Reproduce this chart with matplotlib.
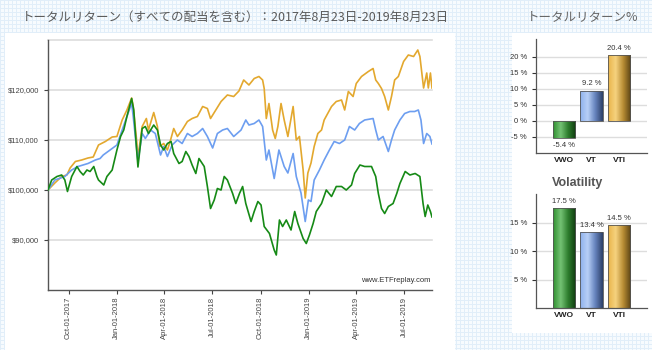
import matplotlib
matplotlib.use('Agg')
import matplotlib.pyplot as plt
import matplotlib.dates as mdates
import numpy as np
import pandas as pd
from matplotlib.colors import LinearSegmentedColormap, to_rgb
from matplotlib.patches import Rectangle

# --- data (days after 2017-08-23, value in $) ---
start = pd.Timestamp('2017-08-23')

vti_days = [0, 13, 26, 36, 42, 52, 64, 76, 86, 96, 109, 122, 131, 141, 150, 159, 162, 169, 171,
            179, 187, 191, 201, 208, 212, 220, 227, 233, 239, 246, 255, 265, 274, 284, 294, 303,
            309, 319, 329, 341, 353, 363, 372, 382, 392, 401, 408, 411, 415, 420, 427, 432, 437,
            443, 449, 456, 466, 472, 478, 485, 489, 494, 500, 506, 513, 520, 525, 539, 548, 558,
            564, 571, 580, 586, 596, 609, 618, 623, 628, 634, 640, 647, 653, 659, 666, 676, 685,
            695, 703, 707, 714, 720, 723, 727, 730]
vti_vals = [100000, 101400, 102700, 103000, 104400, 105700, 106000, 106400, 106600, 109000,
            109700, 110600, 110700, 114000, 116000, 118400, 116700, 109400, 106500, 112700,
            114300, 112000, 115500, 112700, 108700, 109300, 108000, 110000, 112300, 110700,
            112000, 113700, 114300, 114700, 116700, 116300, 114300, 116000, 117700, 119000,
            118700, 119800, 122000, 121000, 122300, 122700, 122000, 120300, 114300, 117300,
            112000, 110300, 112700, 117300, 114000, 110700, 116700, 110000, 110700, 104000,
            98400, 103400, 105400, 108700, 111300, 112000, 114000, 116700, 117700, 118000,
            116000, 119700, 118700, 121300, 122700, 123700, 124300, 122000, 121300, 120300,
            118700, 116000, 118700, 122000, 122700, 125700, 127000, 126700, 128000, 126700,
            120400, 123400, 120400, 123400, 120400]

vt_days = [0, 13, 32, 45, 57, 76, 90, 99, 105, 118, 131, 141, 150, 159, 162, 168, 171, 179, 181,
           185, 195, 204, 214, 220, 227, 236, 246, 255, 265, 274, 284, 294, 303, 313, 322, 332,
           341, 353, 367, 376, 382, 392, 401, 408, 415, 420, 430, 439, 449, 456, 466, 472, 481,
           489, 495, 500, 506, 516, 525, 535, 544, 554, 564, 573, 583, 592, 602, 618, 623, 628,
           637, 647, 653, 659, 669, 678, 688, 697, 704, 709, 714, 720, 726, 730]
vt_vals = [100000, 102000, 102700, 104000, 104700, 105300, 106000, 106300, 107000, 108000,
           109000, 112000, 114700, 117300, 114700, 108700, 105700, 111300, 111000, 110300,
           112000, 111300, 107000, 108700, 106700, 109000, 110000, 109300, 111300, 110700,
           111300, 112300, 110700, 108400, 111300, 112000, 112300, 110700, 112000, 114000,
           113000, 113300, 114000, 112700, 106000, 108000, 102300, 108000, 104700, 103400,
           107300, 102700, 99400, 93700, 98000, 97700, 102000, 104000, 106000, 108000,
           109700, 109300, 110000, 112700, 112000, 113300, 114000, 114300, 112000, 110000,
           110700, 107700, 110000, 112000, 114000, 115300, 115700, 115700, 116000, 114000,
           109300, 111300, 110700, 109200]

vwo_days = [0, 7, 17, 26, 32, 37, 45, 55, 61, 67, 74, 80, 87, 93, 96, 106, 112, 122, 131, 138,
            144, 150, 159, 163, 168, 171, 179, 185, 191, 201, 208, 214, 220, 227, 234, 239, 249,
            255, 262, 268, 274, 281, 287, 297, 303, 309, 316, 322, 329, 335, 341, 351, 357, 364,
            370, 376, 386, 392, 399, 405, 411, 421, 430, 434, 440, 446, 453, 462, 469, 475, 485,
            491, 497, 504, 510, 520, 529, 539, 548, 558, 567, 577, 583, 593, 602, 615, 623, 628,
            634, 640, 647, 656, 663, 669, 679, 688, 698, 707, 713, 717, 722, 727, 730]
vwo_vals = [100000, 102000, 102700, 103000, 102000, 99700, 102700, 104700, 103700, 103000,
            104000, 103700, 104700, 102700, 102000, 101000, 102700, 104000, 108000, 110700,
            112000, 114700, 118300, 116000, 108700, 104600, 112300, 112700, 111300, 113000,
            112000, 109000, 108000, 109300, 109700, 107300, 105300, 105700, 107700, 106700,
            105000, 103300, 106300, 104700, 100700, 96300, 98000, 100300, 100000, 102700,
            102000, 99300, 97300, 99300, 100700, 97300, 93700, 95700, 97700, 97000, 92700,
            91300, 88000, 87000, 94000, 92700, 94000, 92000, 95700, 93300, 90300, 89300,
            91000, 93300, 95700, 97300, 100000, 98700, 100700, 100700, 100000, 101000,
            103300, 105000, 104700, 104700, 102700, 99300, 96300, 95300, 96700, 97300, 99300,
            101300, 103700, 103000, 103300, 102700, 97300, 94700, 97000, 95700, 94600]

tickers = ['VWO', 'VT', 'VTI']
total_return = [-5.4, 9.2, 20.4]
volatility = [17.5, 13.4, 14.5]

x_tick_dates = ['2017-10-01', '2018-01-01', '2018-04-01', '2018-07-01',
                '2018-10-01', '2019-01-01', '2019-04-01', '2019-07-01']

line_colors = {'VWO': '#168a16', 'VT': '#6d9ef0', 'VTI': '#e3a82e'}
grad_colors = {
    'VWO': ['#2f8f2f', '#74c274', '#2d7d2d', '#0f3a0f'],
    'VT': ['#8db0ec', '#b8d0f7', '#6684bd', '#2c3f66'],
    'VTI': ['#e8b44a', '#f6d27e', '#b88c34', '#5a4214'],
}

plt.rcParams['font.family'] = ['Liberation Sans', 'DejaVu Sans']
cjk = ['Noto Sans CJK JP', 'DejaVu Sans']

W, H = 652, 350
fig = plt.figure(figsize=(W / 100, H / 100), dpi=100)
fig.patch.set_facecolor('#f7fbfe')

# light blue checked page background
bg = np.ones((H, W, 3)) * np.array(to_rgb('#f7fbfe'))
line_c = np.array(to_rgb('#e1eef9'))
bg[::4, :, :] = line_c
bg[:, ::4, :] = line_c
fig.figimage(bg, 0, 0, zorder=-10)

# white panels (behind the axes)
fig.patches.append(Rectangle((5 / W, 0), 450 / W, 317 / H, transform=fig.transFigure,
                             facecolor='white', edgecolor='none', zorder=-5))
fig.patches.append(Rectangle((512 / W, 17 / H), 140 / W, 300 / H, transform=fig.transFigure,
                             facecolor='white', edgecolor='none', zorder=-5))

fig.text(22 / W, 1 - 17 / H, 'トータルリターン（すべての配当を含む）：2017年8月23日-2019年8月23日',
         family=cjk, fontsize=9, color='#5a5a5a', va='center', ha='left')

# --- main line chart ---
ax = fig.add_axes([48 / W, 60 / H, 384 / W, 250 / H])
ax.set_facecolor('none')


def to_dates(days):
    return [start + pd.Timedelta(days=d) for d in days]


ax.plot(to_dates(vti_days), vti_vals, color=line_colors['VTI'], lw=1.2, zorder=3)
ax.plot(to_dates(vt_days), vt_vals, color=line_colors['VT'], lw=1.2, zorder=4)
ax.plot(to_dates(vwo_days), vwo_vals, color=line_colors['VWO'], lw=1.2, zorder=5)

ax.set_xlim(start, start + pd.Timedelta(days=730))
ax.set_ylim(80000, 130000)
ax.set_yticks([90000, 100000, 110000, 120000])
ax.set_yticklabels(['$90,000', '$100,000', '$110,000', '$120,000'])
for v in [90000, 100000, 110000, 120000, 130000]:
    ax.axhline(v, color='#dddddd', lw=1.2, zorder=1, clip_on=False)

ax.set_xticks(pd.to_datetime(x_tick_dates))
ax.xaxis.set_major_formatter(mdates.DateFormatter('%b-%d-%Y'))
for lab in ax.get_xticklabels():
    lab.set_rotation(90)
ax.tick_params(axis='both', labelsize=5.5, colors='#444444', length=3, width=0.8)
ax.tick_params(axis='x', pad=2)
for s in ['top', 'right']:
    ax.spines[s].set_visible(False)
for s in ['left', 'bottom']:
    ax.spines[s].set_color('#555555')
    ax.spines[s].set_linewidth(1.0)
ax.text(0.995, 0.025, 'www.ETFreplay.com', transform=ax.transAxes, fontsize=5.5,
        color='#333333', ha='right', va='bottom')


# --- bar charts ---
def gradient_bars(axb, values):
    pos = np.arange(len(values))
    bars = axb.bar(pos, values, width=0.8, facecolor='none', edgecolor='#555555',
                   linewidth=0.6, zorder=3)
    g = np.linspace(0, 1, 128).reshape(1, -1)
    for b, t in zip(bars, tickers):
        cmap = LinearSegmentedColormap.from_list(t, grad_colors[t])
        x0, y0 = b.get_x(), b.get_y()
        im = axb.imshow(g, extent=[x0, x0 + b.get_width(), y0, y0 + b.get_height()],
                        cmap=cmap, aspect='auto', interpolation='bilinear', zorder=2)
        im.set_clip_path(b)
    return bars


def style_bar_axes(axb):
    axb.set_facecolor('none')
    for s in ['top', 'right']:
        axb.spines[s].set_visible(False)
    for s in ['left', 'bottom']:
        axb.spines[s].set_color('#555555')
        axb.spines[s].set_linewidth(0.9)
    axb.set_xticks(np.arange(len(tickers)))
    axb.set_xticklabels(tickers, fontsize=6, fontweight='bold', color='#222222')
    axb.tick_params(axis='x', length=0, pad=3)
    axb.tick_params(axis='y', labelsize=5.5, colors='#333333', length=3, width=0.8)
    axb.set_xlim(-1, 3)


ax1 = fig.add_axes([536 / W, 197 / H, 111 / W, 114 / H])
style_bar_axes(ax1)
ax1.set_ylim(-10, 25.5)
ax1.set_yticks([-5, 0, 5, 10, 15, 20])
ax1.set_yticklabels([f'{v} %' for v in [-5, 0, 5, 10, 15, 20]])
for v in [-5, 0, 5, 10, 15, 20]:
    ax1.axhline(v, color='#dddddd', lw=1.0, zorder=1)
b1 = gradient_bars(ax1, total_return)
for b, v in zip(b1, total_return):
    y = v + 1.2 if v >= 0 else v - 1.2
    ax1.text(b.get_x() + b.get_width() / 2, y, f'{v} %', fontsize=5.5, color='#333333',
             ha='center', va='bottom' if v >= 0 else 'top')
ax1.set_xlim(-1, 3)
ax1.set_ylim(-10, 25.5)

fig.text(583 / W, 1 - 17 / H, 'トータルリターン%', family=cjk, fontsize=9,
         color='#666666', ha='center', va='center')

ax2 = fig.add_axes([536 / W, 42 / H, 111 / W, 114 / H])
style_bar_axes(ax2)
ax2.set_ylim(0, 20)
ax2.set_yticks([5, 10, 15])
ax2.set_yticklabels([f'{v} %' for v in [5, 10, 15]])
for v in [5, 10, 15]:
    ax2.axhline(v, color='#dddddd', lw=1.0, zorder=1)
b2 = gradient_bars(ax2, volatility)
for b, v in zip(b2, volatility):
    ax2.text(b.get_x() + b.get_width() / 2, v + 0.5, f'{v} %', fontsize=5.5, color='#333333',
             ha='center', va='bottom')
ax2.set_xlim(-1, 3)
ax2.set_ylim(0, 20)

fig.text(578 / W, 1 - 183 / H, 'Volatility', fontsize=9, fontweight='bold',
         color='#555555', ha='center', va='center')

fig.savefig('out.png', dpi=100)
